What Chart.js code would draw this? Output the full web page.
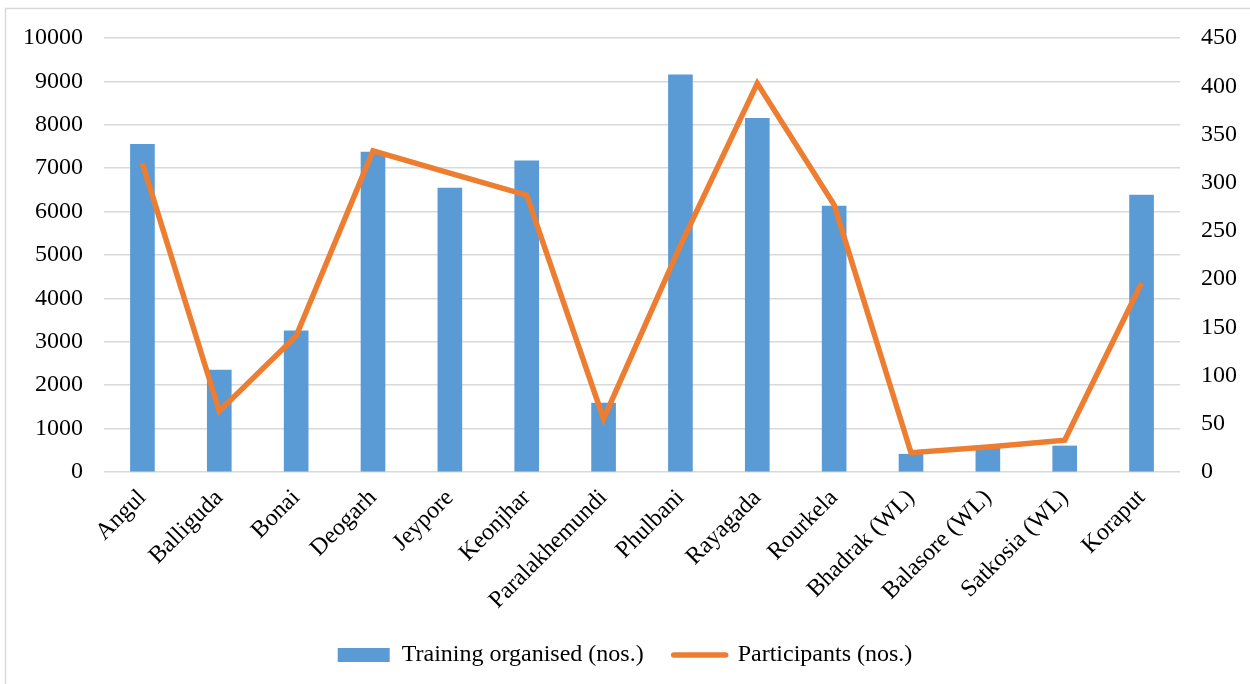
<!DOCTYPE html>
<html>
<head>
<meta charset="utf-8">
<script src="https://cdn.jsdelivr.net/npm/chart.js@4/dist/chart.umd.min.js"></script>
<style>
  html, body { margin: 0; padding: 0; background: #ffffff; }
  #wrap { position: relative; width: 1250px; height: 684px; }
</style>
</head>
<body>
<div id="wrap"><canvas id="chart" width="1250" height="684"></canvas></div>
<script>
// Divisions and their training figures
const categories = [
  'Angul', 'Balliguda', 'Bonai', 'Deogarh', 'Jeypore', 'Keonjhar',
  'Paralakhemundi', 'Phulbani', 'Rayagada', 'Rourkela',
  'Bhadrak (WL)', 'Balasore (WL)', 'Satkosia (WL)', 'Koraput'
];
const trainingOrganised = [7550, 2350, 3250, 7370, 6540, 7170, 1590, 9150, 8150, 6130, 410, 550, 600, 6380];
const participants = [320, 63, 141, 333, 310, 287, 55, 235, 403, 277, 20, 26, 33, 196];

// Axis ranges
const leftAxisMax = 10000;
const leftAxisStep = 1000;
const rightAxisMax = 450;
const rightAxisStep = 50;

const FONT = '"Liberation Serif", "Times New Roman", serif';
const FONT_SIZE = 24;
const BLUE = '#5B9BD5';
const ORANGE = '#ED7D31';
const GRID = '#d9d9d9';

Chart.defaults.font.family = FONT;
Chart.defaults.font.size = FONT_SIZE;
Chart.defaults.color = '#000000';

// Thin outer frame along the left and top edges
const framePlugin = {
  id: 'frame',
  beforeDraw(chart) {
    const ctx = chart.ctx;
    ctx.save();
    ctx.strokeStyle = GRID;
    ctx.lineWidth = 1.5;
    ctx.beginPath();
    ctx.moveTo(5.5, chart.height);
    ctx.lineTo(5.5, 8.5);
    ctx.lineTo(chart.width, 8.5);
    ctx.stroke();
    ctx.restore();
  }
};

const plainNumber = (value) => String(value);

new Chart(document.getElementById('chart'), {
  data: {
    labels: categories,
    datasets: [
      {
        type: 'bar',
        label: 'Training organised (nos.)',
        data: trainingOrganised,
        backgroundColor: BLUE,
        borderWidth: 0,
        barThickness: 24,
        yAxisID: 'y',
        order: 1
      },
      {
        type: 'line',
        label: 'Participants (nos.)',
        data: participants,
        borderColor: ORANGE,
        backgroundColor: ORANGE,
        borderWidth: 5.5,
        pointRadius: 0,
        tension: 0,
        borderJoinStyle: 'miter',
        yAxisID: 'y1',
        order: 0
      }
    ]
  },
  options: {
    responsive: false,
    animation: false,
    layout: { padding: { top: 38, left: 0, right: 0, bottom: 7 } },
    plugins: {
      tooltip: { enabled: false },
      legend: {
        position: 'bottom',
        labels: {
          usePointStyle: true,
          pointStyleWidth: 52,
          boxHeight: 14,
          padding: 30,
          font: { size: FONT_SIZE, family: FONT },
          color: '#000000',
          sort: (a, b) => a.datasetIndex - b.datasetIndex,
          generateLabels(chart) {
            return chart.data.datasets.map((ds, i) => ({
              text: ds.label,
              datasetIndex: i,
              fillStyle: ds.type === 'bar' ? BLUE : ORANGE,
              strokeStyle: ds.type === 'bar' ? BLUE : ORANGE,
              lineWidth: ds.type === 'bar' ? 0 : 5.5,
              lineCap: 'round',
              pointStyle: ds.type === 'bar' ? 'rect' : 'line',
              hidden: false
            }));
          }
        }
      }
    },
    scales: {
      x: {
        grid: { display: false },
        border: { display: false },
        ticks: {
          maxRotation: 45,
          minRotation: 45,
          autoSkip: false,
          padding: 4,
          font: { size: FONT_SIZE }
        },
        afterFit(scale) { scale.height = 141; }
      },
      y: {
        position: 'left',
        min: 0,
        max: leftAxisMax,
        grid: { color: GRID, lineWidth: 1.5, drawTicks: false },
        border: { display: false },
        ticks: { stepSize: leftAxisStep, padding: 21, font: { size: FONT_SIZE }, callback: plainNumber },
        afterFit(scale) { scale.width = 104; }
      },
      y1: {
        position: 'right',
        min: 0,
        max: rightAxisMax,
        grid: { display: false, drawTicks: false },
        border: { display: false },
        ticks: { stepSize: rightAxisStep, padding: 21, font: { size: FONT_SIZE }, callback: plainNumber },
        afterFit(scale) { scale.width = 70; }
      }
    }
  },
  plugins: [framePlugin]
});
</script>
</body>
</html>
